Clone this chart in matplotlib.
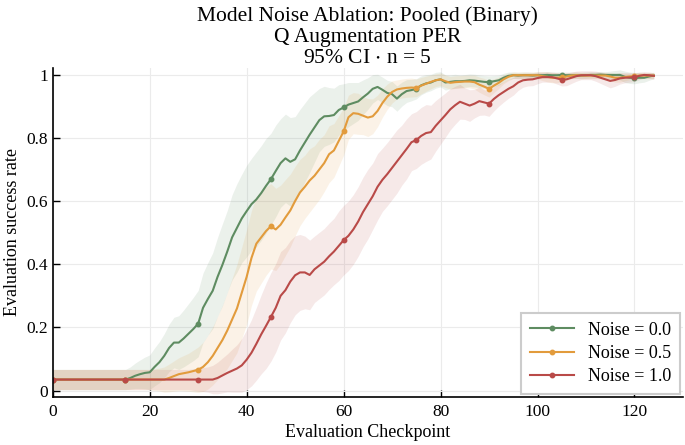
import matplotlib

matplotlib.use('Agg')
import matplotlib.pyplot as plt
import numpy as np

plt.rcParams['font.family'] = ['Liberation Serif', 'DejaVu Serif']
plt.rcParams['mathtext.fontset'] = 'stix'

# checkpoints 0..124
checkpoints = list(range(125))

labels = ['Noise = 0.0', 'Noise = 0.5', 'Noise = 1.0']
colors = ['#5e8c61', '#e29b3c', '#b94a48']

noise_00 = [
    0.035, 0.035, 0.035, 0.035, 0.035, 0.035, 0.035, 0.035, 0.035, 0.035,
    0.035, 0.035, 0.035, 0.035, 0.035, 0.035, 0.040, 0.047, 0.052, 0.056,
    0.058, 0.075, 0.090, 0.110, 0.135, 0.152, 0.152, 0.165, 0.180, 0.195,
    0.212, 0.262, 0.290, 0.316, 0.360, 0.398, 0.440, 0.485, 0.515, 0.545,
    0.568, 0.590, 0.605, 0.625, 0.648, 0.669, 0.695, 0.720, 0.735, 0.724,
    0.732, 0.760, 0.785, 0.810, 0.833, 0.856, 0.868, 0.869, 0.872, 0.888,
    0.896, 0.905, 0.910, 0.915, 0.928, 0.940, 0.955, 0.961, 0.952, 0.942,
    0.938, 0.924, 0.938, 0.948, 0.951, 0.955, 0.966, 0.972, 0.975, 0.982,
    0.985, 0.975, 0.977, 0.979, 0.979, 0.980, 0.982, 0.981, 0.979, 0.977,
    0.976, 0.979, 0.982, 0.990, 0.996, 0.998, 0.997, 0.998, 0.998, 0.997,
    0.998, 0.998, 0.999, 0.998, 0.998, 0.999, 0.998, 0.998, 0.998, 0.997,
    0.998, 0.999, 0.999, 1.000, 0.999, 0.999, 0.999, 0.999, 0.993, 0.990,
    0.989, 0.990, 0.990, 0.994, 0.997,
]
noise_05 = [
    0.035, 0.035, 0.035, 0.035, 0.035, 0.035, 0.035, 0.035, 0.035, 0.035,
    0.035, 0.035, 0.035, 0.035, 0.035, 0.035, 0.035, 0.035, 0.035, 0.035,
    0.035, 0.035, 0.035, 0.035, 0.040, 0.046, 0.052, 0.055, 0.058, 0.062,
    0.066, 0.075, 0.090, 0.110, 0.135, 0.160, 0.190, 0.225, 0.260, 0.310,
    0.360, 0.420, 0.465, 0.485, 0.505, 0.520, 0.510, 0.525, 0.548, 0.570,
    0.600, 0.627, 0.645, 0.665, 0.680, 0.700, 0.720, 0.748, 0.760, 0.790,
    0.820, 0.865, 0.878, 0.876, 0.870, 0.864, 0.868, 0.885, 0.910, 0.930,
    0.945, 0.953, 0.956, 0.958, 0.959, 0.958, 0.965, 0.971, 0.977, 0.982,
    0.985, 0.979, 0.974, 0.976, 0.977, 0.978, 0.978, 0.976, 0.968, 0.962,
    0.955, 0.965, 0.974, 0.985, 0.993, 0.998, 0.998, 0.998, 0.998, 0.998,
    0.998, 0.995, 0.993, 0.990, 0.990, 0.991, 0.994, 0.997, 0.998, 0.997,
    0.997, 0.997, 0.997, 0.997, 0.997, 0.994, 0.990, 0.990, 0.992, 0.994,
    0.995, 0.997, 0.997, 0.997, 0.997,
]
noise_10 = [
    0.035, 0.035, 0.035, 0.035, 0.035, 0.035, 0.035, 0.035, 0.035, 0.035,
    0.035, 0.035, 0.035, 0.035, 0.035, 0.035, 0.035, 0.035, 0.035, 0.035,
    0.035, 0.035, 0.035, 0.035, 0.035, 0.035, 0.035, 0.035, 0.035, 0.035,
    0.035, 0.035, 0.035, 0.035, 0.040, 0.048, 0.056, 0.063, 0.070, 0.080,
    0.098, 0.120, 0.148, 0.178, 0.205, 0.233, 0.262, 0.300, 0.318, 0.345,
    0.365, 0.374, 0.374, 0.366, 0.384, 0.396, 0.408, 0.425, 0.440, 0.458,
    0.476, 0.490, 0.510, 0.535, 0.565, 0.590, 0.615, 0.645, 0.667, 0.685,
    0.705, 0.725, 0.745, 0.765, 0.786, 0.793, 0.806, 0.815, 0.818, 0.838,
    0.855, 0.872, 0.890, 0.903, 0.914, 0.908, 0.902, 0.908, 0.916, 0.912,
    0.908, 0.923, 0.935, 0.945, 0.955, 0.963, 0.975, 0.982, 0.984, 0.985,
    0.989, 0.992, 0.992, 0.992, 0.988, 0.984, 0.985, 0.990, 0.995, 0.998,
    0.998, 0.998, 0.995, 0.990, 0.985, 0.980, 0.983, 0.988, 0.990, 0.991,
    0.992, 0.996, 0.999, 0.998, 0.996,
]

# 95% CI half widths
ci_00 = [
    0.032, 0.032, 0.032, 0.032, 0.032, 0.032, 0.032, 0.032, 0.032, 0.032,
    0.032, 0.032, 0.032, 0.032, 0.032, 0.032, 0.035, 0.040, 0.045, 0.050,
    0.055, 0.060, 0.065, 0.070, 0.075, 0.080, 0.085, 0.090, 0.095, 0.100,
    0.105, 0.110, 0.115, 0.120, 0.125, 0.130, 0.130, 0.135, 0.140, 0.140,
    0.145, 0.145, 0.150, 0.150, 0.150, 0.145, 0.145, 0.140, 0.140, 0.140,
    0.135, 0.130, 0.125, 0.120, 0.110, 0.100, 0.095, 0.090, 0.085, 0.080,
    0.075, 0.070, 0.065, 0.060, 0.055, 0.050, 0.045, 0.040, 0.040, 0.040,
    0.040, 0.040, 0.038, 0.036, 0.034, 0.032, 0.030, 0.028, 0.026, 0.025,
    0.024, 0.024, 0.022, 0.022, 0.020, 0.020, 0.020, 0.020, 0.020, 0.020,
    0.020, 0.018, 0.016, 0.014, 0.012, 0.010, 0.010, 0.010, 0.010, 0.010,
    0.010, 0.010, 0.010, 0.010, 0.010, 0.010, 0.010, 0.010, 0.010, 0.010,
    0.010, 0.010, 0.010, 0.010, 0.010, 0.012, 0.014, 0.016, 0.018, 0.018,
    0.018, 0.016, 0.014, 0.012, 0.010,
]
ci_05 = [
    0.032, 0.032, 0.032, 0.032, 0.032, 0.032, 0.032, 0.032, 0.032, 0.032,
    0.032, 0.032, 0.032, 0.032, 0.032, 0.032, 0.032, 0.032, 0.032, 0.032,
    0.032, 0.034, 0.036, 0.040, 0.044, 0.048, 0.052, 0.056, 0.060, 0.066,
    0.072, 0.078, 0.085, 0.092, 0.100, 0.110, 0.120, 0.130, 0.140, 0.145,
    0.150, 0.150, 0.150, 0.145, 0.140, 0.135, 0.130, 0.125, 0.120, 0.115,
    0.110, 0.105, 0.100, 0.100, 0.095, 0.095, 0.090, 0.090, 0.085, 0.080,
    0.075, 0.070, 0.065, 0.065, 0.060, 0.060, 0.055, 0.050, 0.045, 0.040,
    0.035, 0.030, 0.030, 0.030, 0.030, 0.028, 0.026, 0.024, 0.022, 0.020,
    0.020, 0.020, 0.020, 0.020, 0.020, 0.020, 0.020, 0.022, 0.024, 0.026,
    0.026, 0.022, 0.018, 0.014, 0.012, 0.010, 0.010, 0.010, 0.010, 0.010,
    0.012, 0.014, 0.016, 0.016, 0.016, 0.014, 0.012, 0.010, 0.010, 0.010,
    0.010, 0.010, 0.010, 0.010, 0.010, 0.012, 0.014, 0.014, 0.012, 0.010,
    0.010, 0.010, 0.010, 0.010, 0.010,
]
ci_10 = [
    0.032, 0.032, 0.032, 0.032, 0.032, 0.032, 0.032, 0.032, 0.032, 0.032,
    0.032, 0.032, 0.032, 0.032, 0.032, 0.032, 0.032, 0.032, 0.032, 0.032,
    0.032, 0.032, 0.032, 0.032, 0.032, 0.032, 0.032, 0.032, 0.032, 0.034,
    0.036, 0.038, 0.040, 0.045, 0.050, 0.055, 0.060, 0.068, 0.075, 0.085,
    0.095, 0.105, 0.115, 0.125, 0.135, 0.140, 0.140, 0.140, 0.135, 0.130,
    0.125, 0.120, 0.115, 0.110, 0.105, 0.105, 0.105, 0.105, 0.105, 0.110,
    0.110, 0.110, 0.110, 0.110, 0.110, 0.110, 0.105, 0.105, 0.100, 0.100,
    0.100, 0.100, 0.095, 0.095, 0.090, 0.090, 0.090, 0.090, 0.085, 0.080,
    0.075, 0.070, 0.065, 0.060, 0.055, 0.050, 0.050, 0.045, 0.045, 0.040,
    0.040, 0.038, 0.035, 0.032, 0.030, 0.028, 0.025, 0.022, 0.020, 0.020,
    0.018, 0.016, 0.016, 0.016, 0.018, 0.020, 0.020, 0.018, 0.016, 0.014,
    0.014, 0.014, 0.016, 0.018, 0.020, 0.022, 0.020, 0.018, 0.016, 0.015,
    0.014, 0.012, 0.010, 0.010, 0.010,
]

series = [noise_00, noise_05, noise_10]
cis = [ci_00, ci_05, ci_10]

fig = plt.figure(figsize=(6.85, 4.45), dpi=100)
ax = fig.add_axes([0.077, 0.108, 0.92, 0.74])

x = np.array(checkpoints)
for vals, ci, col in zip(series, cis, colors):
    y = np.array(vals)
    h = np.array(ci)
    ax.fill_between(x, y - h, y + h, color=col, alpha=0.12, linewidth=0)
for vals, col, lab in zip(series, colors, labels):
    ax.plot(x, vals, color=col, lw=1.5, marker='o', markersize=3.2,
            markevery=15, label=lab)

ax.set_xlim(0, 130)
ax.set_ylim(-0.02, 1.022)
ax.set_xticks([0, 20, 40, 60, 80, 100, 120])
ax.set_yticks([0, 0.2, 0.4, 0.6, 0.8, 1.0])
ax.set_yticklabels(['0', '0.2', '0.4', '0.6', '0.8', '1'])
ax.tick_params(direction='in', labelsize=12.5, length=5, width=1)
ax.tick_params(axis='x', pad=5)
ax.grid(True, color='#ebebeb', linewidth=0.8)
ax.set_axisbelow(True)
for s in ['top', 'right']:
    ax.spines[s].set_visible(False)
for s in ['left', 'bottom']:
    ax.spines[s].set_linewidth(1.2)

ax.set_xlabel('Evaluation Checkpoint', fontsize=13, labelpad=3)
ax.set_ylabel('Evaluation success rate', fontsize=13, labelpad=4)
ax.set_title('Model Noise Ablation: Pooled (Binary)\nQ Augmentation PER\n95% CI $\\cdot$ n = 5',
             fontsize=15.5, linespacing=1.12, pad=3)

leg = ax.legend(loc='lower right', fontsize=13, fancybox=False, framealpha=1,
                edgecolor='#cccccc', handlelength=2.4, borderpad=0.5,
                labelspacing=0.35, borderaxespad=0.15)
leg.get_frame().set_linewidth(1.5)

fig.savefig('out.png', dpi=100)
